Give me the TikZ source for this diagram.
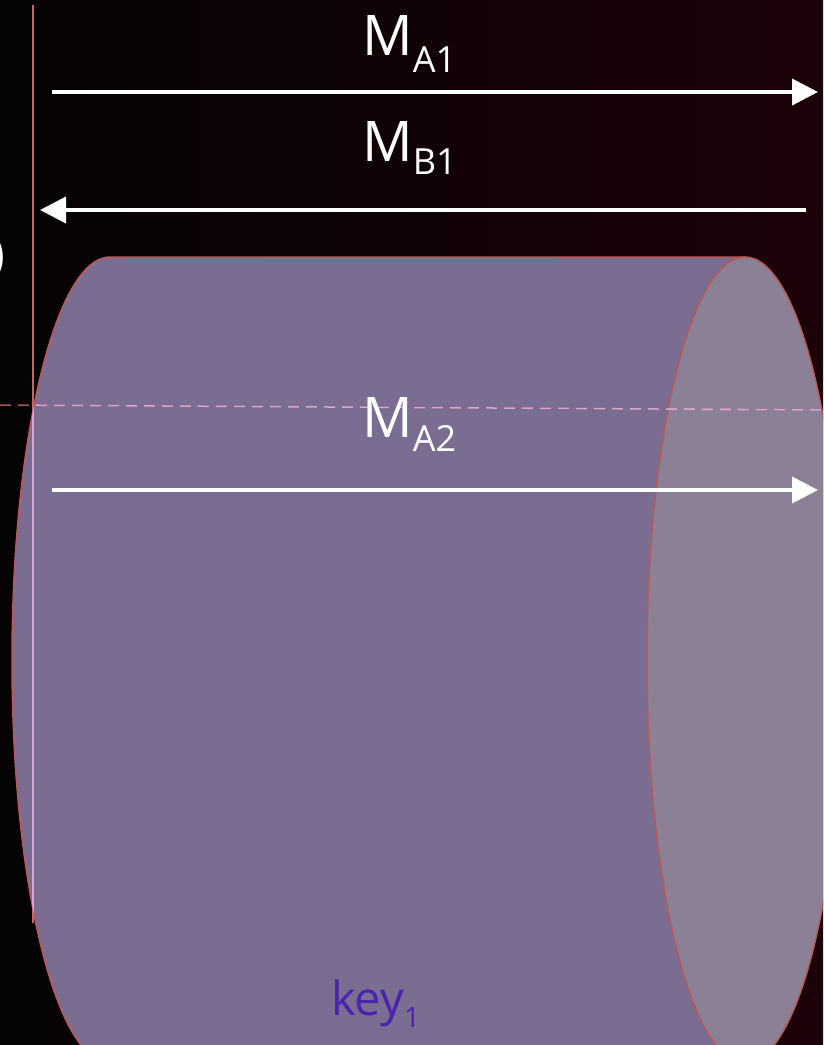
\documentclass[tikz,border=0pt]{standalone}
\usepackage{fontspec}
\setmainfont{Open Sans}
\usetikzlibrary{arrows.meta}
\definecolor{bgL}{RGB}{5,3,4}
\definecolor{bgR}{RGB}{28,2,9}
\definecolor{body}{RGB}{123,108,146}
\definecolor{face}{RGB}{139,128,150}
\definecolor{edge}{RGB}{184,90,90}
\definecolor{redline}{RGB}{200,100,100}
\definecolor{pinkline}{RGB}{216,166,212}
\definecolor{keycol}{RGB}{75,35,175}
\tikzset{
  msg/.style={draw=white, line width=4pt, -{Triangle[length=26pt,width=26pt]}},
  lbl/.style={text=white, inner sep=0pt, anchor=base west},
  guide/.style={line width=1.5pt},
  dashguide/.style={line width=1.5pt, dash pattern=on 11pt off 7pt},
}
\newcommand{\cylpath}{(110,257) -- (745,257) -- (745,1063) -- (110,1063) arc[start angle=270, end angle=90, x radius=98pt, y radius=403pt] -- cycle}
\begin{document}
\begin{tikzpicture}[x=1pt,y=-1pt]
\useasboundingbox (0,0) rectangle (823,1045);
\clip (0,0) rectangle (823,1045);
\shade[left color=bgL, right color=bgR] (0,0) rectangle (823,1045);
% partial parenthesis at left edge
\node[text=white, inner sep=0pt, anchor=east, font=\fontsize{50}{56}\selectfont] (paren) at (5,258) {)};
% cylinder
\fill[body] \cylpath;
\draw[edge, line width=1.5pt] (745,257) -- (110,257) arc[start angle=90, end angle=270, x radius=98pt, y radius=403pt] -- (745,1063);
\filldraw[fill=face, draw=edge, line width=1.5pt] (745,660) ellipse[x radius=98pt, y radius=403pt];
% guide lines
\coordinate (vtop) at (33,5);
\coordinate (vbot) at (33,923);
\coordinate (hl) at (0,405);
\coordinate (hr) at (823,410);
\draw[guide, redline] (vtop) -- (vbot);
\draw[dashguide, redline!85!black] (hl) -- (hr);
\begin{scope}
  \clip \cylpath;
  \draw[guide, pinkline] (vtop) -- (vbot);
  \draw[dashguide, pinkline] (hl) -- (hr);
\end{scope}
\begin{scope}
  \clip (745,660) ellipse[x radius=98pt, y radius=403pt];
  \draw[dashguide, pinkline] (hl) -- (hr);
\end{scope}
% arrows
\coordinate (a1s) at (52,92);
\coordinate (a1e) at (818,92);
\coordinate (b1s) at (806,210);
\coordinate (b1e) at (40,210);
\coordinate (a2s) at (52,490);
\coordinate (a2e) at (818,490);
\draw[msg] (a1s) -- (a1e);
\draw[msg] (b1s) -- (b1e);
\draw[msg] (a2s) -- (a2e);
% labels
\node[lbl] (ma1) at (362,55) {\fontsize{56}{60}\selectfont M\raisebox{-17pt}{\fontsize{36}{40}\selectfont A1}};
\node[lbl] (mb1) at (362,161) {\fontsize{56}{60}\selectfont M\raisebox{-13pt}{\fontsize{36}{40}\selectfont B1}};
\node[lbl] (ma2) at (362,437) {\fontsize{56}{60}\selectfont M\raisebox{-14pt}{\fontsize{36}{40}\selectfont A2}};
\node[lbl, text=keycol] (key) at (331,1015) {\fontsize{47}{50}\selectfont key\raisebox{-12pt}{\fontsize{28}{30}\selectfont 1}};
\end{tikzpicture}
\end{document}
